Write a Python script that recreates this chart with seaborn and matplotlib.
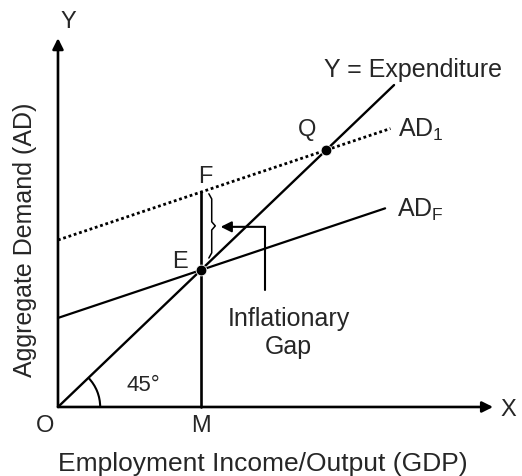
import numpy as np
import seaborn as sns
import matplotlib.pyplot as plt
from matplotlib.patches import Arc

# data (in diagram units, origin O = (0, 0))
income = [0, 9.4]                 # 45 degree line, Y = Expenditure
expenditure = [0, 9.4]
adf_x = [0, 9.15]                 # full-employment aggregate demand
adf_y = [2.6, 5.8]
ad1_x = [0, 9.3]                  # excess aggregate demand
ad1_y = [4.875, 8.13]
point_x = [4.0, 7.5]              # E and Q
point_y = [4.0, 7.5]
m_x = 4.0                         # full employment output M
f_y = 6.275                       # AD1 at M
x_axis_end = 12.17
y_axis_end = 10.77

sns.set_style("white")
plt.rcParams['font.family'] = ['Liberation Sans', 'DejaVu Sans']
plt.rcParams['mathtext.fontset'] = 'custom'
plt.rcParams['mathtext.rm'] = 'Liberation Sans'
plt.rcParams['mathtext.it'] = 'Liberation Sans:italic'

fig = plt.figure(figsize=(5.22, 4.76), dpi=100)
ax = fig.add_axes([0, 0, 1, 1])
ax.set_xlim(-1.622, 12.979)
ax.set_ylim(-2.015, 11.883)
ax.axis('off')

# axes with arrows
arrow = dict(arrowstyle='-|>', lw=1.9, color='black', mutation_scale=16, shrinkA=0, shrinkB=0)
ax.annotate('', xy=(x_axis_end, 0), xytext=(0, 0), arrowprops=arrow)
ax.annotate('', xy=(0, y_axis_end), xytext=(0, 0), arrowprops=arrow)

# curves
sns.lineplot(x=income, y=expenditure, ax=ax, color='black', linewidth=1.7)
sns.lineplot(x=adf_x, y=adf_y, ax=ax, color='black', linewidth=1.6)
sns.lineplot(x=ad1_x, y=ad1_y, ax=ax, color='black', linewidth=2.0, linestyle=(0, (1, 1)))
ax.plot([m_x, m_x], [0, f_y], color='black', linewidth=1.9)
sns.scatterplot(x=point_x, y=point_y, ax=ax, color='black', s=60, zorder=5)

# 45 degree arc
ax.add_patch(Arc((0, 0), 2 * 1.18, 2 * 1.23, theta1=0, theta2=45, color='black', lw=1.5))

# brace for the gap between F and E
bx = m_x + 0.3
top, bot = f_y - 0.05, 4.35
mid = (top + bot) / 2
ax.plot([bx - 0.08, bx, bx, bx + 0.1, bx, bx, bx - 0.08],
        [top, top - 0.15, mid + 0.12, mid, mid - 0.12, bot + 0.15, bot],
        color='black', lw=1.1)

# arrow pointing to the gap
ax.plot([5.79, 5.79], [5.26, 3.42], color='black', lw=1.5)
ax.annotate('', xy=(4.55, 5.26), xytext=(5.79, 5.26),
            arrowprops=dict(arrowstyle='-|>', lw=1.5, color='black', mutation_scale=16,
                            shrinkA=0, shrinkB=0))

fs = 17
ax.text(0.28, 11.24, 'Y', fontsize=fs, ha='center', va='center')
ax.text(12.59, -0.09, 'X', fontsize=fs, ha='center', va='center')
ax.text(-0.36, -0.55, 'O', fontsize=fs, ha='center', va='center')
ax.text(4.0, -0.55, 'M', fontsize=fs, ha='center', va='center')
ax.text(3.41, 4.23, 'E', fontsize=fs, ha='center', va='center')
ax.text(4.11, 6.72, 'F', fontsize=fs, ha='center', va='center')
ax.text(6.97, 8.09, 'Q', fontsize=fs, ha='center', va='center')
ax.text(9.93, 9.84, 'Y = Expenditure', fontsize=18, ha='center', va='center')
ax.text(9.51, 8.09, r'AD$_\mathregular{1}$', fontsize=18, ha='left', va='center')
ax.text(9.48, 5.75, r'AD$_\mathregular{F}$', fontsize=18, ha='left', va='center')
ax.text(2.38, 0.64, '45°', fontsize=16, ha='center', va='center')
ax.text(6.45, 2.15, 'Inflationary\nGap', fontsize=18, ha='center', va='center', linespacing=1.2)
ax.text(5.73, -1.66, 'Employment Income/Output (GDP)', fontsize=19, ha='center', va='center')
ax.text(-0.92, 4.88, 'Aggregate Demand (AD)', fontsize=18, ha='center', va='center', rotation=90)

fig.savefig('out.png', dpi=100)
